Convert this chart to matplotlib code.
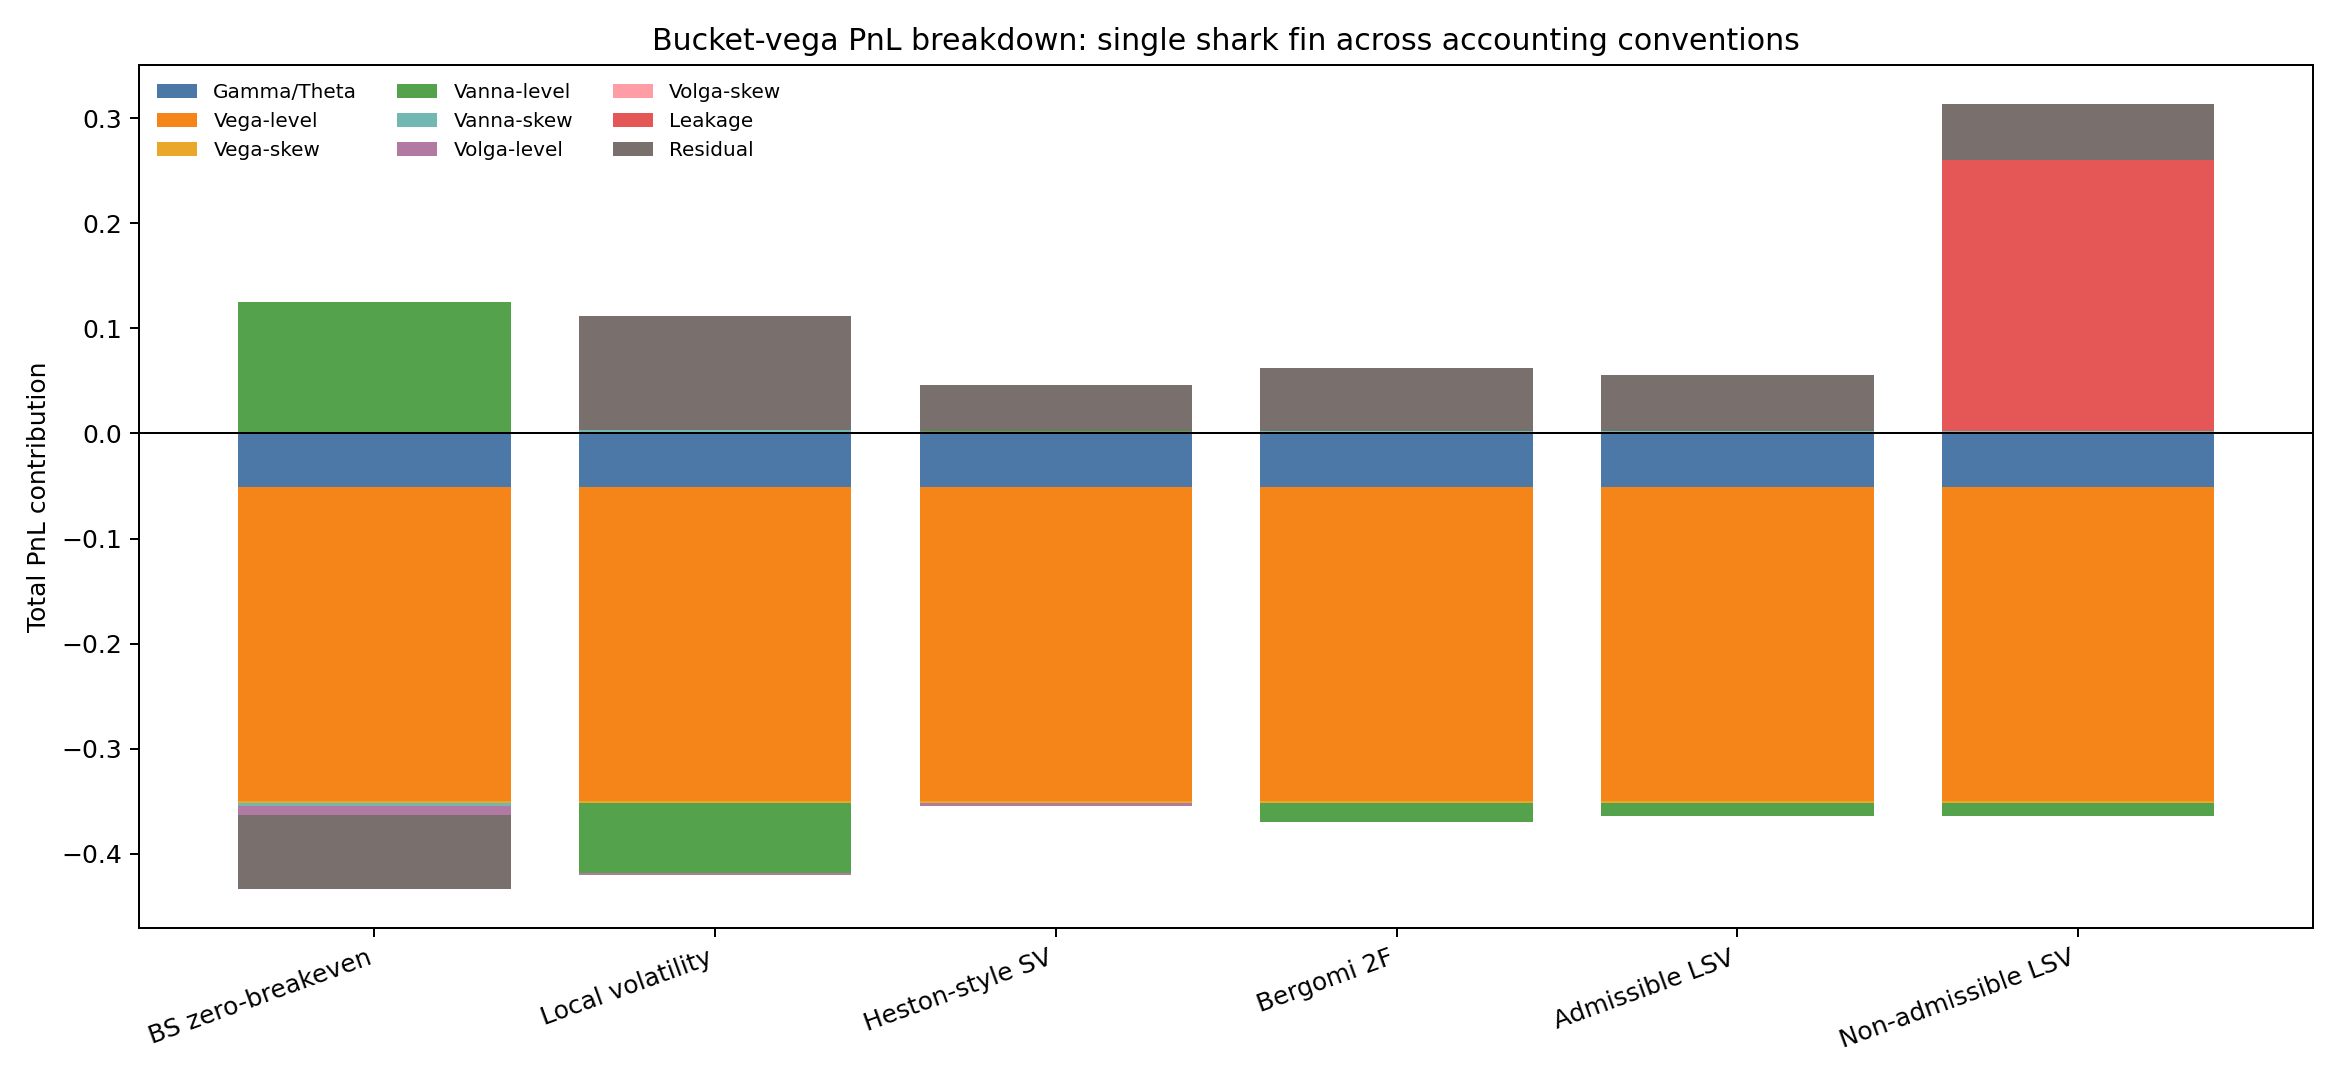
import numpy as np
import matplotlib
matplotlib.use("Agg")
import matplotlib.pyplot as plt

# Conventions on the x axis
conventions = ["BS zero-breakeven", "Local volatility", "Heston-style SV",
               "Bergomi 2F", "Admissible LSV", "Non-admissible LSV"]

# PnL components per convention
gamma_theta = [-0.051, -0.051, -0.051, -0.051, -0.051, -0.051]
vega_level = [-0.299, -0.299, -0.299, -0.299, -0.299, -0.299]
vega_skew = [-0.002, -0.002, -0.002, -0.002, -0.002, -0.002]
vanna_level = [0.1255, -0.066, 0.002, -0.018, -0.012, -0.012]
vanna_skew = [-0.003, 0.003, 0.0, 0.0027, 0.0027, 0.0025]
volga_level = [-0.0086, -0.002, -0.003, 0.0, 0.0, 0.0]
volga_skew = [0.0, 0.0, 0.0, 0.0, 0.0, 0.0]
leakage = [0.0, 0.0, 0.0, 0.0, 0.0, 0.2575]
residual = [-0.070, 0.109, 0.0443, 0.0598, 0.053, 0.0535]

components = [
    ("Gamma/Theta", gamma_theta, "#4c78a8"),
    ("Vega-level", vega_level, "#f58518"),
    ("Vega-skew", vega_skew, "#e9a82a"),
    ("Vanna-level", vanna_level, "#54a24b"),
    ("Vanna-skew", vanna_skew, "#72b7b2"),
    ("Volga-level", volga_level, "#b279a2"),
    ("Volga-skew", volga_skew, "#ff9da6"),
    ("Leakage", leakage, "#e45756"),
    ("Residual", residual, "#79706e"),
]

fig, ax = plt.subplots(figsize=(13, 6), dpi=180)

x = np.arange(len(conventions))
pos_base = np.zeros(len(conventions))
neg_base = np.zeros(len(conventions))

# stack positives upward and negatives downward from zero
for name, vals, color in components:
    vals = np.array(vals)
    bottoms = np.where(vals >= 0, pos_base, neg_base)
    ax.bar(x, vals, width=0.8, bottom=bottoms, color=color, label=name)
    pos_base += np.where(vals >= 0, vals, 0)
    neg_base += np.where(vals < 0, vals, 0)

ax.axhline(0, color="black", linewidth=0.8)
ax.set_xticks(x)
ax.set_xticklabels(conventions, rotation=20, ha="right")
ax.set_ylabel("Total PnL contribution")
ax.set_title("Bucket-vega PnL breakdown: single shark fin across accounting conventions", fontsize=12)
ax.legend(ncol=3, fontsize=8, frameon=False, loc="upper left")

plt.tight_layout()
plt.savefig("out.png", dpi=180)
